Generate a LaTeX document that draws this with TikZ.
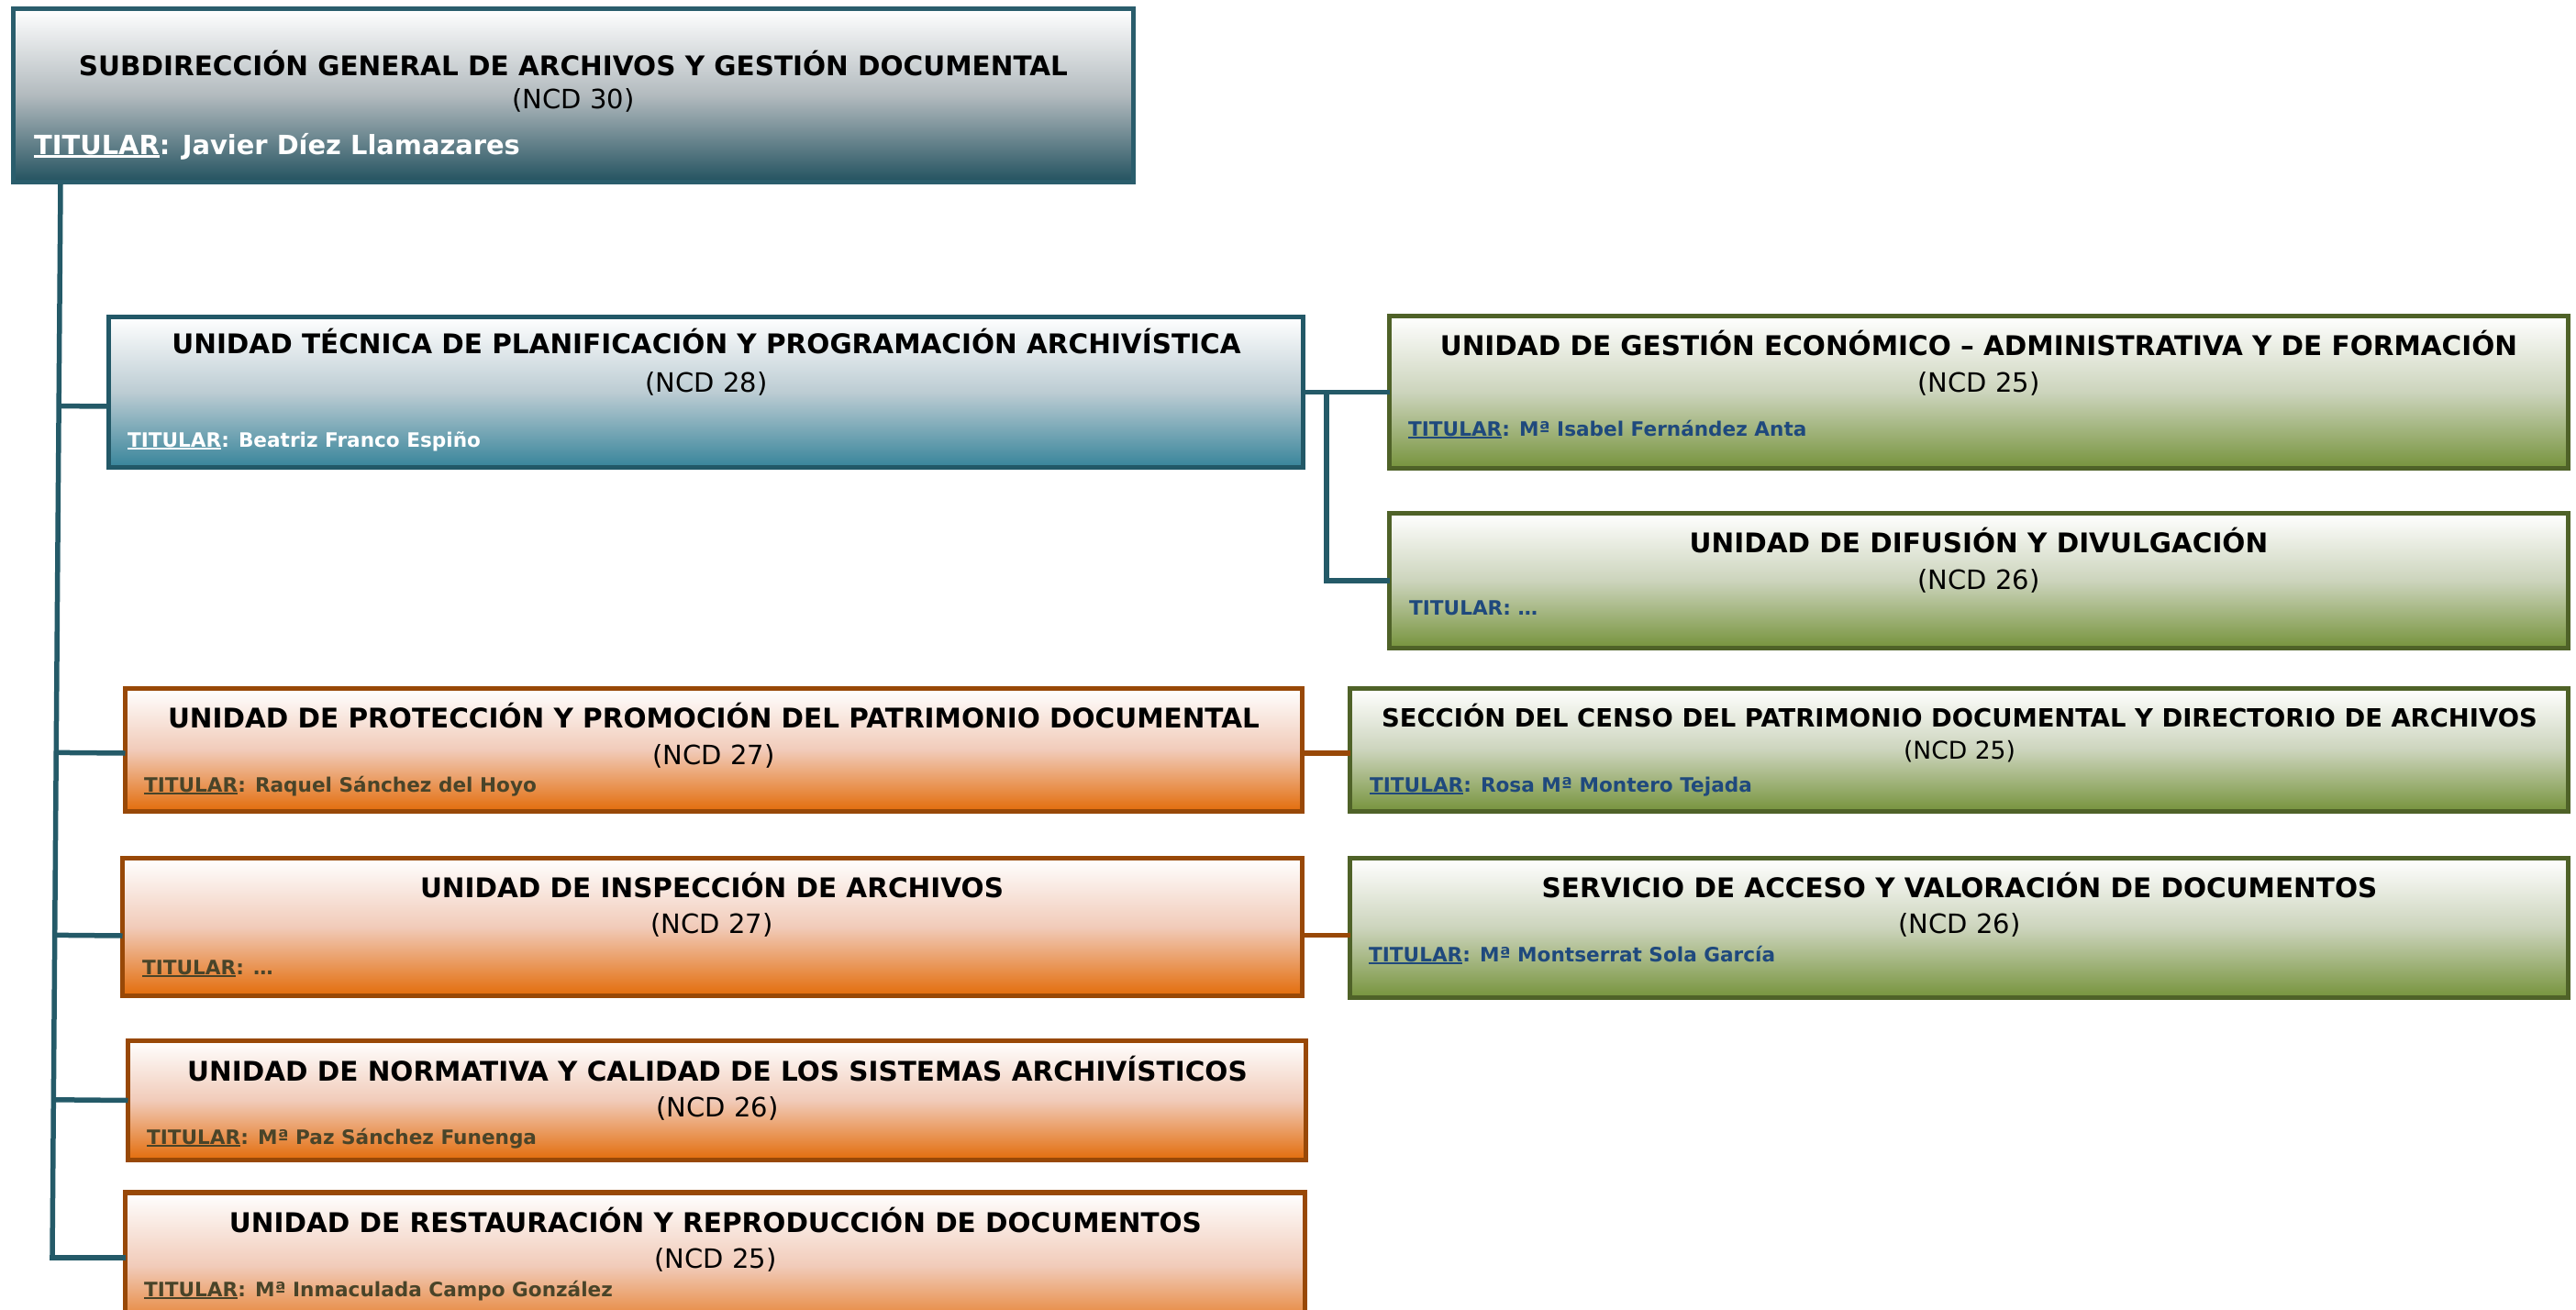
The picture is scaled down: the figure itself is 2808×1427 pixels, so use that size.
\documentclass[tikz,border=0pt]{standalone}
\usepackage{fontspec}
\setmainfont{DejaVu Sans}
\usetikzlibrary{calc}
\definecolor{tealD}{HTML}{23525F}
\definecolor{tealM}{HTML}{B2BABE}
\definecolor{tealB}{HTML}{2A5D6C}
\definecolor{conn}{HTML}{245A68}
\definecolor{blueD}{HTML}{37849A}
\definecolor{blueM}{HTML}{BCCCD3}
\definecolor{blueB}{HTML}{225867}
\definecolor{greenD}{HTML}{76933C}
\definecolor{greenM}{HTML}{CCD4BC}
\definecolor{greenB}{HTML}{4F6228}
\definecolor{orD}{HTML}{E36C0A}
\definecolor{orM}{HTML}{F1CBB9}
\definecolor{orB}{HTML}{984807}
\definecolor{titBlue}{HTML}{1F497D}
\definecolor{titOr}{HTML}{494429}
\newcommand{\tul}[1]{\setbox0\hbox{#1}\rlap{\rule[-0.15em]{\wd0}{0.1em}}\box0}
\begin{document}
\begin{tikzpicture}[x=1pt,y=-1pt,
  box/.style={draw, line width=5.5pt, inner sep=0pt, outer sep=0pt},
  topbox/.style={box, draw=tealB, top color=white, bottom color=tealD, middle color=tealM},
  bluebox/.style={box, draw=blueB, top color=white, bottom color=blueD, middle color=blueM},
  greenbox/.style={box, draw=greenB, top color=white, bottom color=greenD, middle color=greenM},
  orbox/.style={box, draw=orB, top color=white, bottom color=orD, middle color=orM},
  ttl/.style={anchor=base, inner sep=0pt, font=\fontsize{29.5}{34}\selectfont\bfseries},
  ttlsmall/.style={anchor=base, inner sep=0pt, font=\fontsize{27.4}{32}\selectfont\bfseries},
  ncd/.style={anchor=base, inner sep=0pt, font=\fontsize{29}{34}\selectfont},
  ncdsmall/.style={anchor=base, inner sep=0pt, font=\fontsize{26.6}{31}\selectfont},
  titbig/.style={anchor=base west, inner sep=0pt, text=white, font=\fontsize{28.9}{34}\selectfont\bfseries},
  tit/.style={anchor=base west, inner sep=0pt, font=\fontsize{21.6}{26}\selectfont\bfseries},
  cn/.style={draw=conn, line width=5.5pt},
  cno/.style={draw=orB, line width=5.5pt}
]
\useasboundingbox (0,0) rectangle (2808,1427);
\clip (0,0) rectangle (2808,1427);

% boxes
\node[topbox, minimum width=1221pt, minimum height=189pt] (top) at (625,104) {};
\node[bluebox, minimum width=1302pt, minimum height=164pt] (b1) at (769.5,427.5) {};
\node[greenbox, minimum width=1285pt, minimum height=166pt] (g1) at (2157,427.5) {};
\node[greenbox, minimum width=1285pt, minimum height=147pt] (g2) at (2157,633) {};
\node[orbox, minimum width=1283pt, minimum height=134pt] (o1) at (778,817.5) {};
\node[orbox, minimum width=1286pt, minimum height=150pt] (o2) at (776.5,1010.5) {};
\node[greenbox, minimum width=1328pt, minimum height=134pt] (g3) at (2135.5,817.5) {};
\node[greenbox, minimum width=1328pt, minimum height=152pt] (g4) at (2135.5,1011.5) {};
\node[orbox, minimum width=1284pt, minimum height=130pt] (o3) at (781.5,1199.5) {};
\node[orbox, minimum width=1286pt, minimum height=160pt] (o4) at (779.5,1380) {};

% connectors
\coordinate (tA) at (66,201);
\coordinate (tB) at (57,1371);
\draw[cn] (tA) -- (tB);
\draw[cn] ($(tA)!(b1.west)!(tB) + (0,15.5)$) -- ([yshift=-15.5pt]b1.west);
\draw[cn] ($(tA)!(o1.west)!(tB) + (0,3.5)$) -- ([yshift=-3.5pt]o1.west);
\draw[cn] ($(tA)!(o2.west)!(tB) + (0,9.5)$) -- ([yshift=-9.5pt]o2.west);
\draw[cn] ($(tA)!(o3.west)!(tB)$) -- (o3.west);
\draw[cn] ([xshift=-2.75pt]tB) -- (tB -| o4.west);
\draw[cn] (b1.east) -- (g1.west);
\coordinate (hub) at ($(b1.east)!0.27!(g1.west)$);
\draw[cn] (hub) |- (g2.west);
\draw[cno] ([yshift=-3.5pt]o1.east) -- ([yshift=-3.5pt]g3.west);
\draw[cno] ([yshift=-9pt]o2.east) -- ([yshift=-9pt]o2.east -| g4.west);

% texts: top
\node[ttl] (top-t) at (625,82) {SUBDIRECCIÓN GENERAL DE ARCHIVOS Y GESTIÓN DOCUMENTAL};
\node[ncd] (top-n) at (625,118) {(NCD 30)};
\node[titbig] (top-p) at (37,168) {\tul{TITULAR}: Javier Díez Llamazares};

% b1
\node[ttl] (b1-t) at (770,385) {UNIDAD TÉCNICA DE PLANIFICACIÓN Y PROGRAMACIÓN ARCHIVÍSTICA};
\node[ncd] (b1-n) at (770,427) {(NCD 28)};
\node[tit, text=white] (b1-p) at (139,487) {\tul{TITULAR}: Beatriz Franco Espiño};

% g1
\node[ttl] (g1-t) at (2157,387) {UNIDAD DE GESTIÓN ECONÓMICO – ADMINISTRATIVA Y DE FORMACIÓN};
\node[ncd] (g1-n) at (2157,427) {(NCD 25)};
\node[tit, text=titBlue] (g1-p) at (1535,475) {\tul{TITULAR}: Mª Isabel Fernández Anta};

% g2
\node[ttl] (g2-t) at (2157,602) {UNIDAD DE DIFUSIÓN Y DIVULGACIÓN};
\node[ncd] (g2-n) at (2157,642) {(NCD 26)};
\node[tit, text=titBlue] (g2-p) at (1536,670) {TITULAR: …};

% o1
\node[ttl] (o1-t) at (778,793) {UNIDAD DE PROTECCIÓN Y PROMOCIÓN DEL PATRIMONIO DOCUMENTAL};
\node[ncd] (o1-n) at (778,833) {(NCD 27)};
\node[tit, text=titOr] (o1-p) at (157,863) {\tul{TITULAR}: Raquel Sánchez del Hoyo};

% o2
\node[ttl] (o2-t) at (776,978) {UNIDAD DE INSPECCIÓN DE ARCHIVOS};
\node[ncd] (o2-n) at (776,1017) {(NCD 27)};
\node[tit, text=titOr] (o2-p) at (155,1062) {\tul{TITULAR}: …};

% g3
\node[ttlsmall] (g3-t) at (2136,792) {SECCIÓN DEL CENSO DEL PATRIMONIO DOCUMENTAL Y DIRECTORIO DE ARCHIVOS};
\node[ncdsmall] (g3-n) at (2136,827) {(NCD 25)};
\node[tit, text=titBlue] (g3-p) at (1493,863) {\tul{TITULAR}: Rosa Mª Montero Tejada};

% g4
\node[ttl] (g4-t) at (2136,978) {SERVICIO DE ACCESO Y VALORACIÓN DE DOCUMENTOS};
\node[ncd] (g4-n) at (2136,1017) {(NCD 26)};
\node[tit, text=titBlue] (g4-p) at (1492,1048) {\tul{TITULAR}: Mª Montserrat Sola García};

% o3
\node[ttl] (o3-t) at (782,1178) {UNIDAD DE NORMATIVA Y CALIDAD DE LOS SISTEMAS ARCHIVÍSTICOS};
\node[ncd] (o3-n) at (782,1217) {(NCD 26)};
\node[tit, text=titOr] (o3-p) at (160,1247) {\tul{TITULAR}: Mª Paz Sánchez Funenga};

% o4
\node[ttl] (o4-t) at (780,1343) {UNIDAD DE RESTAURACIÓN Y REPRODUCCIÓN DE DOCUMENTOS};
\node[ncd] (o4-n) at (780,1382) {(NCD 25)};
\node[tit, text=titOr] (o4-p) at (157,1413) {\tul{TITULAR}: Mª Inmaculada Campo González};
\end{tikzpicture}
\end{document}
